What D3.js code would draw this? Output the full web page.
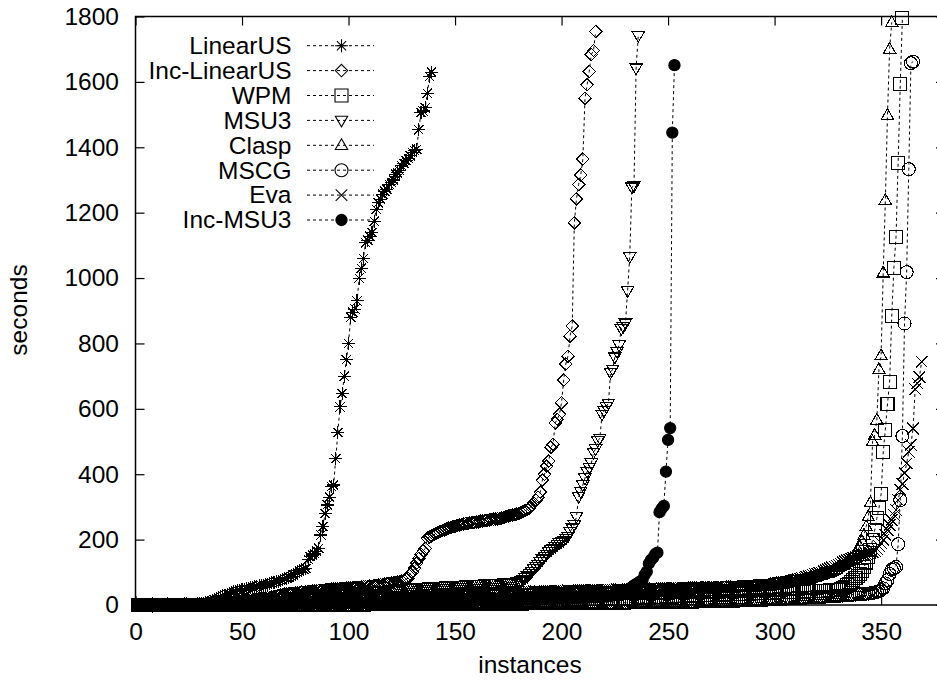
<!DOCTYPE html>
<html>
<head>
<meta charset="utf-8">
<script src="https://cdn.jsdelivr.net/npm/d3@7"></script>
<style>
  body { margin: 0; background: #fff; }
  svg { display: block; font-family: "Liberation Sans", Arial, Helvetica, sans-serif; }
</style>
</head>
<body>
<svg id="chart" width="937" height="681"></svg>
<script>
// sorted run times (seconds), one value per solved instance
var linearUS = [
  0,0,0,0,0,0,0,0,0,0,0,0,1,1,1,1,1,1,1,1,
  1,1,2,2,2,2,3,3,3,4,5,6,7,9,11,13,16,19,22,25,
  28,30,33,36,38,40,42,43,45,46,47,49,51,53,54,56,57,59,60,61,
  63,64,66,68,70,71,73,75,77,80,82,85,88,92,97,100,104,108,110,112,
  140,148,153,158,165,173,214,240,280,306,330,362,367,448,528,606,647,700,750,800,
  880,895,905,930,1000,1030,1060,1108,1115,1128,1139,1174,1210,1230,1241,1256,1265,1272,1287,1293,
  1300,1318,1322,1328,1343,1350,1359,1367,1374,1384,1390,1394,1453,1506,1511,1521,1565,1616,1630
];

var incLinearUS = [
  0,0,0,0,0,0,0,0,0,0,1,1,1,1,1,1,1,1,1,1,
  1,1,1,2,2,2,2,2,3,3,3,3,4,4,4,5,5,6,6,7,
  7,8,8,9,10,10,11,12,12,13,14,15,15,16,17,18,18,19,20,20,
  21,22,23,24,25,27,29,31,32,33,34,35,35,36,37,37,38,39,39,40,
  41,41,42,42,43,44,44,45,46,47,47,48,48,49,49,50,50,51,51,52,
  52,53,53,54,54,55,56,56,57,58,58,59,60,61,62,63,64,65,66,67,
  68,69,70,71,73,76,79,82,95,100,112,128,143,155,165,173,204,208,212,215,
  218,221,224,227,230,233,235,237,239,241,243,244,246,248,249,250,251,252,253,254,
  255,256,257,258,259,260,261,262,263,264,265,266,268,270,272,274,275,277,278,280,
  283,286,289,292,296,305,312,321,330,345,382,400,425,440,482,492,557,568,583,619,
  688,737,761,822,853,1169,1242,1286,1315,1364,1550,1591,1632,1684,1696,1754
];

var wpm = [
  0,0,0,0,0,0,0,0,0,0,0,0,0,0,0,0,0,0,0,0,
  0,0,0,0,0,0,0,0,0,0,0,0,0,0,0,0,0,0,0,0,
  0,0,0,0,0,0,0,0,0,0,1,1,1,1,1,1,1,1,1,1,
  1,1,1,1,1,1,1,1,1,1,1,1,1,1,1,1,1,1,1,1,
  1,1,1,1,1,1,1,1,2,2,2,2,2,2,2,2,2,2,2,2,
  2,2,2,2,2,2,3,3,3,3,3,3,3,3,3,3,3,3,4,4,
  4,4,4,4,4,4,4,4,4,5,5,5,5,5,5,5,5,5,6,6,
  6,6,6,6,6,6,6,7,7,7,7,7,7,7,7,8,8,8,8,8,
  8,8,8,9,9,9,9,9,9,9,10,10,10,10,10,10,11,11,11,11,
  11,11,12,12,12,12,12,12,13,13,13,13,13,14,14,14,14,14,15,15,
  15,15,15,16,16,16,16,16,17,17,17,17,17,18,18,18,18,18,19,19,
  19,19,19,20,20,20,20,20,21,21,21,21,22,22,22,22,23,23,23,23,
  24,24,24,24,25,25,25,25,26,26,26,26,27,27,27,27,28,28,28,28,
  29,29,29,29,30,30,30,30,31,31,31,31,32,32,32,32,33,33,33,33,
  34,34,34,34,35,35,35,35,36,36,36,36,37,37,37,37,38,38,38,38,
  39,39,39,39,40,40,40,40,40,41,41,41,41,41,42,42,42,42,43,43,
  43,43,44,44,44,45,45,45,46,46,48,52,56,60,65,70,76,82,88,95,
  105,117,130,148,168,200,229,265,296,339,467,536,615,681,883,1030,1125,1353,1593,1795
];

var msu3 = [
  0,0,0,0,0,0,0,0,0,0,0,0,1,1,1,1,1,1,1,1,
  1,1,1,1,2,2,2,2,2,3,3,3,3,4,4,4,5,5,5,6,
  6,7,7,8,8,9,9,10,10,11,11,12,12,13,13,14,14,15,15,16,
  16,17,17,18,18,19,19,20,20,21,21,22,22,23,23,24,24,25,25,26,
  26,27,27,28,28,29,29,30,30,31,31,32,32,33,33,34,34,35,35,36,
  36,37,37,38,38,39,39,40,40,41,41,42,42,43,43,44,44,45,45,46,
  46,47,47,48,48,49,49,50,50,51,51,52,52,53,53,54,54,55,55,56,
  56,56,57,57,57,58,58,58,59,59,59,60,60,60,61,61,61,62,62,62,
  63,63,63,64,64,64,65,65,65,66,66,66,67,67,68,68,69,69,70,70,
  74,78,83,88,95,102,110,117,124,132,140,148,155,162,168,173,178,185,190,194,
  198,204,210,224,235,245,270,331,347,367,388,408,421,434,467,477,502,510,583,594,
  607,617,711,721,758,775,795,845,851,862,961,1065,1278,1282,1642,1741
];

var clasp = [
  0,0,0,0,0,0,0,0,0,0,0,0,0,0,0,0,0,0,0,0,
  0,0,0,0,0,0,0,0,0,1,1,1,1,1,1,1,1,1,1,1,
  1,1,1,1,1,1,1,1,2,2,2,2,2,2,2,2,2,2,2,3,
  3,3,3,3,3,3,3,3,4,4,4,4,4,4,4,5,5,5,5,5,
  5,6,6,6,6,6,7,7,7,7,7,8,8,8,8,9,9,9,9,10,
  10,10,10,11,11,11,11,12,12,12,13,13,13,13,14,14,14,15,15,15,
  15,16,16,16,17,17,17,17,18,18,18,18,19,19,19,19,20,20,20,20,
  21,21,21,21,22,22,22,22,23,23,23,23,24,24,24,24,25,25,25,25,
  26,26,26,26,27,27,27,27,28,28,28,28,28,29,29,29,29,29,30,30,
  30,30,30,31,31,31,31,31,32,32,32,32,32,33,33,33,33,33,34,34,
  34,34,34,35,35,35,35,35,36,36,36,36,36,37,37,37,37,37,38,38,
  38,38,38,39,39,39,39,39,40,40,40,40,40,41,41,41,41,41,42,42,
  42,42,42,43,43,43,43,43,44,44,44,44,45,45,45,45,46,46,46,46,
  47,47,47,47,48,48,48,48,49,49,49,49,50,50,50,51,51,51,52,52,
  52,53,53,53,54,54,55,55,56,56,57,57,58,58,59,60,61,62,63,64,
  65,66,67,68,69,70,71,72,73,74,75,76,77,78,79,80,82,84,86,88,
  90,92,94,96,98,100,103,106,110,114,118,122,126,130,135,140,150,160,170,178,
  195,214,240,270,313,500,520,566,721,763,1016,1238,1498,1700,1782
];

var mscg = [
  0,0,0,0,0,0,0,0,0,0,0,0,0,0,0,0,0,0,0,0,
  0,0,0,0,0,0,0,0,0,0,0,0,0,0,0,0,0,0,0,0,
  0,0,0,0,0,0,0,0,0,0,0,0,0,0,0,0,0,0,0,0,
  0,0,0,0,0,0,0,0,0,0,1,1,1,1,1,1,1,1,1,1,
  1,1,1,1,1,1,1,1,1,1,1,1,1,1,1,1,1,1,1,1,
  1,1,1,1,1,1,1,1,1,1,2,2,2,2,2,2,2,2,2,2,
  2,2,2,2,2,2,2,2,2,2,2,2,2,2,2,3,3,3,3,3,
  3,3,3,3,3,3,3,3,3,3,3,3,3,3,3,3,3,3,3,3,
  3,3,3,3,3,4,4,4,4,4,4,4,4,4,4,4,4,4,4,4,
  4,4,4,4,5,5,5,5,5,5,5,5,5,5,5,5,5,5,5,5,
  5,5,6,6,6,6,6,6,6,6,6,6,6,6,6,6,6,7,7,7,
  7,7,7,7,7,7,7,7,7,7,7,7,8,8,8,8,8,8,8,8,
  8,8,8,8,8,9,9,9,9,9,9,9,9,9,9,10,10,10,10,10,
  10,10,10,10,11,11,11,11,11,11,11,12,12,12,12,12,12,13,13,13,
  13,13,13,14,14,14,14,14,15,15,15,15,16,16,16,16,17,17,17,18,
  18,18,19,19,19,20,20,20,21,21,21,22,22,22,23,23,23,24,24,24,
  25,25,25,26,26,26,27,27,28,28,29,29,30,30,31,31,32,32,33,33,
  34,34,35,35,36,37,38,40,42,46,51,66,76,95,108,112,116,186,321,517,
  861,1018,1333,1657,1662
];

var eva = [
  0,0,0,0,0,0,0,0,0,0,0,0,0,0,0,1,1,1,1,1,
  1,1,1,1,1,1,1,1,1,1,2,2,2,2,2,2,2,2,3,3,
  3,3,3,3,4,4,4,4,5,5,5,5,6,6,6,7,7,7,8,8,
  8,9,9,9,10,10,10,11,11,11,12,12,12,13,13,13,14,14,14,15,
  15,15,16,16,16,17,17,17,18,18,18,19,19,19,20,20,20,21,21,21,
  22,22,22,23,23,23,23,24,24,24,24,25,25,25,25,26,26,26,26,27,
  27,27,27,28,28,28,28,29,29,29,29,30,30,30,30,31,31,31,31,32,
  32,32,32,33,33,33,33,34,34,34,34,34,35,35,35,35,35,36,36,36,
  36,36,37,37,37,37,37,38,38,38,38,38,39,39,39,39,39,40,40,40,
  40,40,40,41,41,41,41,41,41,42,42,42,42,42,42,43,43,43,43,43,
  43,44,44,44,44,44,44,45,45,45,45,45,45,46,46,46,46,46,46,47,
  47,47,47,47,47,48,48,48,48,48,48,49,49,49,49,49,49,50,50,50,
  50,50,50,51,51,51,51,51,51,52,52,52,52,52,52,53,53,53,53,53,
  53,54,54,54,54,54,54,55,55,55,55,55,55,56,56,56,56,56,56,57,
  57,57,57,57,57,58,58,58,58,58,59,59,60,60,61,61,62,62,63,64,
  65,66,67,68,69,70,72,73,75,76,78,80,82,84,86,88,90,92,94,96,
  98,100,103,106,109,112,115,118,121,124,127,130,133,136,139,142,144,146,148,150,
  152,154,156,158,160,162,166,172,180,190,200,215,229,245,260,275,290,321,352,370,
  403,433,469,490,540,660,678,697,744
];

var incMsu3 = [
  0,0,0,0,0,0,0,0,0,0,0,0,0,0,0,0,0,0,0,0,
  0,0,0,0,0,1,1,1,1,1,1,1,1,1,1,1,1,1,1,1,
  1,1,1,1,1,2,2,2,2,2,2,2,2,2,2,2,2,2,3,3,
  3,3,3,3,3,3,3,3,3,3,3,4,4,4,4,4,4,4,4,4,
  4,4,4,5,5,5,5,5,5,5,5,5,5,6,6,6,6,6,6,6,
  6,6,6,6,7,7,7,7,7,7,7,7,7,8,8,8,8,8,8,8,
  8,8,8,9,9,9,9,9,9,9,9,10,10,10,10,10,10,10,10,11,
  11,11,11,11,11,11,12,12,12,12,12,12,12,13,13,13,13,13,13,13,
  14,14,14,14,14,14,14,15,15,15,15,15,15,16,16,16,16,16,16,17,
  17,17,17,17,17,18,18,18,18,18,18,19,19,19,19,19,20,20,20,20,
  20,21,21,21,21,22,22,22,22,23,23,23,24,24,24,25,25,25,26,26,
  27,28,28,29,30,31,33,35,38,42,46,50,55,60,64,68,72,76,92,102,
  127,138,145,156,160,284,295,303,408,505,541,1445,1651
];

var seriesNames = ["LinearUS", "Inc-LinearUS", "WPM", "MSU3", "Clasp", "MSCG", "Eva", "Inc-MSU3"];
var seriesData = [linearUS, incLinearUS, wpm, msu3, clasp, mscg, eva, incMsu3];
var xTicks = [0, 50, 100, 150, 200, 250, 300, 350];
var yTicks = [0, 200, 400, 600, 800, 1000, 1200, 1400, 1600, 1800];

var markerKinds = ["star", "diamond", "square", "triDown", "triUp", "circle", "cross", "dot"];
var shapes = {
  star: "M-6.5,0H6.5M0,-6.5V6.5M-4.6,-4.6L4.6,4.6M-4.6,4.6L4.6,-4.6",
  diamond: "M0,-6.2L6.2,0L0,6.2L-6.2,0Z",
  square: "M-6.5,-6.5H6.5V6.5H-6.5Z",
  triDown: "M-6.2,-4.2H6.2L0,6.5Z",
  triUp: "M0,-6.5L6.2,4.2H-6.2Z",
  circle: "M6.5,0A6.5,6.5 0 1,1 -6.5,0A6.5,6.5 0 1,1 6.5,0Z",
  cross: "M-5.8,-5.8L5.8,5.8M-5.8,5.8L5.8,-5.8",
  dot: "M5.6,0A5.6,5.6 0 1,1 -5.6,0A5.6,5.6 0 1,1 5.6,0Z"
};

var svg = d3.select("#chart");
var fontSize = 24.5;

var x = d3.scaleLinear().domain([0, 380]).range([135.5, 945]);
var y = d3.scaleLinear().domain([0, 1800]).range([605, 16.5]);

// axes, gnuplot style: ticks pointing inwards on all four sides
function styleAxis(g) {
  g.select(".domain").remove();
  g.selectAll(".tick line").attr("stroke", "#000").attr("stroke-width", 1.2);
  g.selectAll(".tick text").attr("fill", "#000").attr("font-size", fontSize)
    .attr("font-family", "\"Liberation Sans\", Arial, Helvetica, sans-serif");
}

svg.append("g")
    .attr("transform", "translate(0," + y(0) + ")")
    .call(d3.axisBottom(x).tickValues(xTicks).tickSize(-9).tickPadding(18).tickFormat(d3.format("d")))
    .call(styleAxis);

svg.append("g")
    .attr("transform", "translate(0," + y(1800) + ")")
    .call(d3.axisTop(x).tickValues(xTicks).tickSize(-9).tickFormat(""))
    .call(styleAxis);

svg.append("g")
    .attr("transform", "translate(" + x(0) + ",0)")
    .call(d3.axisLeft(y).tickValues(yTicks).tickSize(-9).tickPadding(16.5).tickFormat(d3.format("d")))
    .call(styleAxis);

svg.append("g")
    .attr("transform", "translate(" + x(380) + ",0)")
    .call(d3.axisRight(y).tickValues(yTicks).tickSize(-9).tickFormat(""))
    .call(styleAxis);

// frame (right edge falls outside the picture)
svg.append("rect")
    .attr("x", x(0)).attr("y", y(1800))
    .attr("width", x(380) - x(0)).attr("height", y(0) - y(1800))
    .attr("fill", "none").attr("stroke", "#000").attr("stroke-width", 1.5);

// axis titles
svg.append("text")
    .attr("x", 530).attr("y", 673)
    .attr("text-anchor", "middle")
    .attr("font-size", fontSize)
    .text("instances");

svg.append("text")
    .attr("transform", "translate(27,310) rotate(-90)")
    .attr("text-anchor", "middle")
    .attr("font-size", fontSize)
    .text("seconds");

// series: dashed line, then the points on top
var line = d3.line()
    .x(function(d, i) { return x(i + 1); })
    .y(function(d) { return y(d); });

seriesData.forEach(function(values, s) {
  var kind = markerKinds[s];
  var g = svg.append("g").attr("class", "series");

  g.append("path")
      .datum(values)
      .attr("d", line)
      .attr("fill", "none")
      .attr("stroke", "#000")
      .attr("stroke-width", 1)
      .attr("stroke-dasharray", "3,3");

  g.selectAll("path.pt")
    .data(values)
    .enter().append("path")
      .attr("class", "pt")
      .attr("transform", function(d, i) { return "translate(" + x(i + 1) + "," + y(d) + ")"; })
      .attr("d", shapes[kind])
      .attr("fill", kind === "dot" ? "#000" : "none")
      .attr("stroke", "#000")
      .attr("stroke-width", 1.1)
      .attr("shape-rendering", kind === "dot" ? "auto" : "crispEdges");
});

// legend
var legend = svg.append("g").attr("class", "legend");
seriesNames.forEach(function(name, s) {
  var cy = 45.7 + 24.9 * s;
  legend.append("text")
      .attr("x", 291.5).attr("y", cy + 8.3)
      .attr("text-anchor", "end")
      .attr("font-size", fontSize)
      .text(name);
  legend.append("line")
      .attr("x1", 307).attr("x2", 374)
      .attr("y1", cy).attr("y2", cy)
      .attr("stroke", "#000")
      .attr("stroke-width", 1)
      .attr("stroke-dasharray", "3,3");
  legend.append("path")
      .attr("transform", "translate(341.5," + cy + ")")
      .attr("d", shapes[markerKinds[s]])
      .attr("fill", markerKinds[s] === "dot" ? "#000" : "none")
      .attr("stroke", "#000")
      .attr("stroke-width", 1.1);
});
</script>
</body>
</html>
